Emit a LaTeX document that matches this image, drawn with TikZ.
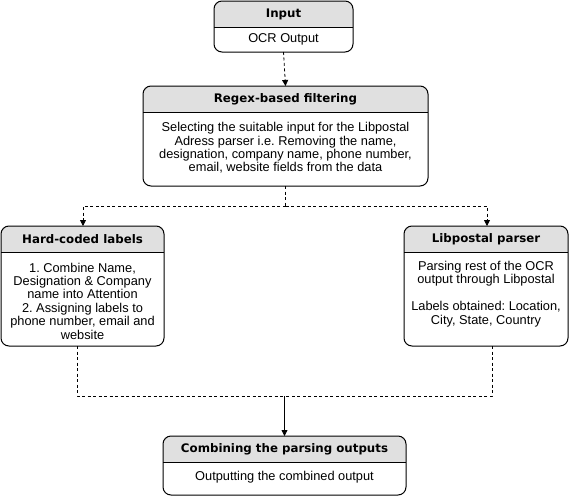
\documentclass[tikz,border=0pt]{standalone}
\usepackage{fontspec}
\setmainfont{Liberation Sans}
\newfontfamily\hdrfont{DejaVu Sans}
\usetikzlibrary{arrows.meta}
\definecolor{hdrgray}{RGB}{224,224,224}
\frenchspacing
\tikzset{
  frame/.style={draw=black, line width=1pt, rounded corners=8pt},
  hdrtext/.style={font=\hdrfont\bfseries\fontsize{11.8}{13}\selectfont, inner sep=0pt},
  bodytext/.style={font=\frenchspacing\fontsize{12.8}{13.4}\selectfont, align=center, inner sep=0pt},
  conn/.style={line width=0.8pt, dash pattern=on 3pt off 2.5pt},
  solidconn/.style={line width=0.8pt},
  tip/.style={-{Triangle[length=6pt,width=6pt]}},
}
\newcommand\mkbox[6]{% name, left, top, width, height, header height
  \node[anchor=north west, inner sep=0pt, outer sep=0pt, minimum width=#4pt, minimum height=#5pt] (#1) at (#2,#3) {};
  \begin{scope}
    \clip[rounded corners=8pt] (#1.south west) rectangle (#1.north east);
    \fill[hdrgray] (#1.north west) rectangle ([yshift=-#6pt]#1.north east);
  \end{scope}
  \draw[line width=1pt] ([yshift=-#6pt]#1.north west) -- ([yshift=-#6pt]#1.north east);
  \draw[frame] (#1.south west) rectangle (#1.north east);
}
\begin{document}
\begin{tikzpicture}[x=1pt, y=-1pt]
\useasboundingbox (0,0) rectangle (570,498);
\fill[white] (0,0) rectangle (570,498);

\mkbox{inp}{214}{1}{139}{51}{26}
\mkbox{rgx}{143}{86}{285}{100}{26}
\mkbox{hard}{1}{226}{163}{120}{26}
\mkbox{lib}{404}{226}{164}{120}{26}
\mkbox{cmb}{163}{436}{243}{59}{26}

\node[hdrtext] (inph) at (283.5,14) {Input};
\node[bodytext] (inpb) at (283.5,39) {OCR Output};

\node[hdrtext] (rgxh) at (285.5,99) {Regex-based filtering};
\node[bodytext] (rgxb) at (285.5,148) {Selecting the suitable input for the Libpostal\\Adress parser i.e. Removing the name,\\designation, company name, phone number,\\email, website fields from the data};

\node[hdrtext] (hardh) at (82.5,239) {Hard-coded labels};
\node[bodytext] (hardb) at (82.5,301) {1. Combine Name,\\Designation \& Company\\name into Attention\\2. Assigning labels to\\phone number, email and\\website};

\node[hdrtext] (libh) at (486,239) {Libpostal parser};
\node[bodytext] (libb) at (486,294) {Parsing rest of the OCR\\output through Libpostal\\[13.4pt]Labels obtained: Location,\\City, State, Country};

\node[hdrtext] (cmbh) at (284.5,449) {Combining the parsing outputs};
\node[bodytext] (cmbb) at (284.5,477) {Outputting the combined output};

\coordinate (split) at (285.5,206);
\coordinate (join) at (284.5,396);

\draw[conn,tip] (inp.south) -- (rgx.north);
\draw[conn] (rgx.south) -- (split);
\draw[conn,tip] (split) -| ([xshift=0.5pt]hard.north);
\draw[conn,tip] (split) -| ([xshift=1pt]lib.north);
\draw[conn] ([xshift=-5.5pt]hard.south) |- (join);
\draw[conn] ([xshift=6pt]lib.south) |- (join);
\draw[solidconn,tip] (join) -- (cmb.north);
\end{tikzpicture}
\end{document}
